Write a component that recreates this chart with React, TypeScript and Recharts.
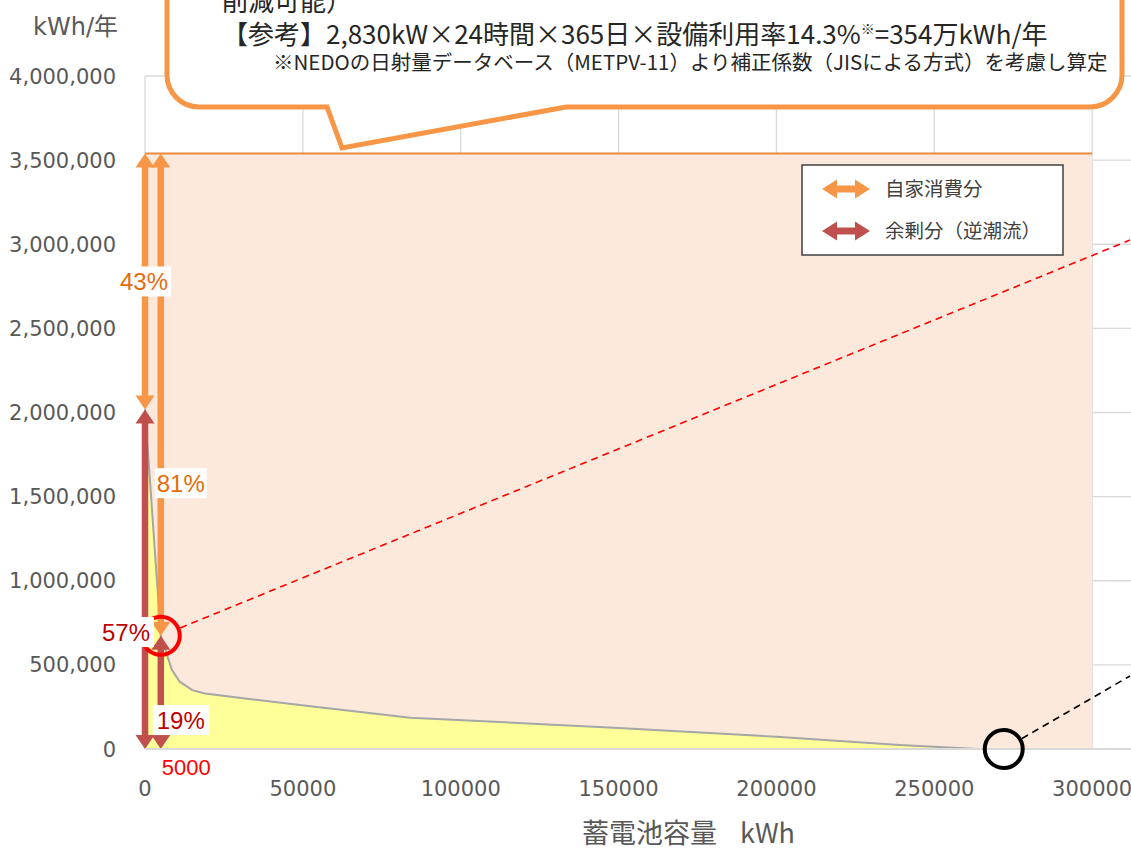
import React from 'react';
import { ComposedChart, Area, XAxis, YAxis, CartesianGrid, ReferenceLine, ReferenceDot } from 'recharts';

// 蓄電池容量 kWh
const capacity = [0, 5000, 8500, 11000, 15000, 19000, 33000, 49000, 84000, 150000, 200000, 239000, 264000, 300000];
// 余剰分（逆潮流） kWh/年
const surplus = [2017800, 672600, 470000, 400000, 350000, 330000, 297000, 261000, 186000, 125000, 73000, 24000, 0, 0];
// 年間発電量 354万kWh/年
const annualGeneration = 3540000;

const xTicks = [0, 50000, 100000, 150000, 200000, 250000, 300000];
const yTicks = [0, 500000, 1000000, 1500000, 2000000, 2500000, 3000000, 3500000, 4000000];

// 注目する容量
const focusCapacity = 5000;
const zeroSurplusCapacity = 272000;

const rows = capacity.map((c, i) => ({ capacity: c, generation: annualGeneration, surplus: surplus[i] }));

const NUM_FONT = "'DejaVu Sans', 'Noto Sans CJK JP', sans-serif";
const JP_FONT = "'Noto Sans CJK JP', sans-serif";
const LABEL_FONT = "'Liberation Sans', Arial, sans-serif";

const ORANGE = '#F79646';
const RED = '#C0504D';

const pct = (v: number) => Math.round((v / annualGeneration) * 100);
const surplusAtZero = surplus[0];
const surplusAtFocus = surplus[capacity.indexOf(focusCapacity)];

const arrowPoints = (x1: number, y1: number, x2: number, y2: number, shaft: number, headW: number, headL: number) => {
  const len = Math.hypot(x2 - x1, y2 - y1);
  const ux = (x2 - x1) / len;
  const uy = (y2 - y1) / len;
  const nx = -uy;
  const ny = ux;
  const pt = (t: number, s: number) => `${x1 + ux * t + nx * s},${y1 + uy * t + ny * s}`;
  return [
    pt(0, 0), pt(headL, headW / 2), pt(headL, shaft / 2), pt(len - headL, shaft / 2), pt(len - headL, headW / 2),
    pt(len, 0), pt(len - headL, -headW / 2), pt(len - headL, -shaft / 2), pt(headL, -shaft / 2), pt(headL, -headW / 2),
  ].join(' ');
};

const doubleArrow = (color: string) => (p: any) => {
  const { x1, y1, x2, y2 } = p;
  if (Math.hypot(x2 - x1, y2 - y1) < 1) return <g />;
  return <polygon points={arrowPoints(x1, y1, x2, y2, 6.5, 19, 14)} fill={color} />;
};

// 円の縁から引き出す破線
const leader = (color: string, trim: number) => (p: any) => {
  const { x1, y1, x2, y2 } = p;
  const len = Math.hypot(x2 - x1, y2 - y1) || 1;
  const sx = x1 + ((x2 - x1) / len) * trim;
  const sy = y1 + ((y2 - y1) / len) * trim;
  return <line x1={sx} y1={sy} x2={x2} y2={y2} stroke={color} strokeWidth={1.6} strokeDasharray="7 5" />;
};

const boxedLabel = (text: string, color: string, dx: number, w: number) => (p: any) => (
  <g>
    <rect x={p.cx + dx - w / 2} y={p.cy - 15} width={w} height={30} fill="#fff" />
    <text x={p.cx + dx} y={p.cy} dy={8.5} textAnchor="middle" fill={color} fontSize={24} fontFamily={LABEL_FONT}>
      {text}
    </text>
  </g>
);

const YTick = (props: any) => {
  const { x, y, payload } = props;
  return (
    <text x={x - 27} y={y} dy={7.5} textAnchor="end" fill="#595959" fontSize={21} fontFamily={NUM_FONT}>
      {payload.value.toLocaleString('en-US')}
    </text>
  );
};

const XTick = (props: any) => {
  const { x, y, payload } = props;
  return (
    <text x={x} y={y + 45} textAnchor="middle" fill="#595959" fontSize={21} fontFamily={NUM_FONT}>
      {String(payload.value)}
    </text>
  );
};

const Callout = () => (
  <svg width={1131} height={850} style={{ position: 'absolute', left: 0, top: 0, pointerEvents: 'none' }}>
    <path
      d="M167,-40 L167,75 A32,32 0 0 0 199,107 L327,107 L342,148 L566,107 L1090,107 A32,32 0 0 0 1122,75 L1122,-40 Z"
      fill="#fff"
      stroke={ORANGE}
      strokeWidth={5}
    />
    <text x={222} y={11} fontSize={26} fontFamily={JP_FONT} fill="#262626">削減可能）</text>
    <text x={222} y={44} fontSize={26} fontFamily={JP_FONT} fill="#262626">
      【参考】2,830kW×24時間×365日×設備利用率14.3%
      <tspan fontSize={14} dy={-10}>※</tspan>
      <tspan dy={10}>=354万kWh/年</tspan>
    </text>
    <text x={273} y={70} fontSize={20.5} fontFamily={JP_FONT} fill="#262626">
      ※NEDOの日射量データベース（METPV-11）より補正係数（JISによる方式）を考慮し算定
    </text>

    <text x={118} y={35} textAnchor="end" fontSize={24} fontFamily={NUM_FONT} fill="#595959">kWh/年</text>
    <text y={843} fontSize={27} fontFamily={JP_FONT} fill="#595959">
      <tspan x={582}>蓄電池容量</tspan>
      <tspan x={740}>kWh</tspan>
    </text>

    <rect x={802} y={165} width={261} height={90} fill="#fff" stroke="#404040" strokeWidth={1.5} />
    <polygon points={arrowPoints(822, 189, 870, 189, 7, 19, 15)} fill={ORANGE} />
    <polygon points={arrowPoints(822, 231, 870, 231, 7, 19, 15)} fill={RED} />
    <text x={885} y={189} dy={7} fontSize={19.5} fontFamily={JP_FONT} fill="#404040">自家消費分</text>
    <text x={885} y={231} dy={7} fontSize={19.5} fontFamily={JP_FONT} fill="#404040">余剰分（逆潮流）</text>
  </svg>
);

export default function App() {
  return (
    <div style={{ position: 'fixed', left: 0, top: 0, width: 1131, height: 850, overflow: 'hidden', background: '#fff' }}>
      <ComposedChart width={1260} height={850} data={rows} margin={{ top: 76, right: 10, bottom: 61, left: 0 }}>
        <CartesianGrid stroke="#d9d9d9" strokeWidth={1.3} />
        <XAxis
          dataKey="capacity"
          type="number"
          domain={[0, 350000]}
          ticks={xTicks}
          interval={0}
          height={40}
          tickSize={0}
          tickLine={false}
          axisLine={{ stroke: '#d9d9d9', strokeWidth: 2 }}
          tick={XTick}
        />
        <YAxis
          type="number"
          domain={[0, 4000000]}
          ticks={yTicks}
          interval={0}
          width={145}
          tickSize={0}
          tickLine={false}
          axisLine={false}
          tick={YTick}
        />
        <Area
          type="linear"
          dataKey="generation"
          stroke="#EA8A3C"
          strokeWidth={2}
          fill="#FCE9DB"
          fillOpacity={1}
          dot={false}
          activeDot={false}
          isAnimationActive={false}
        />
        <Area
          type="linear"
          dataKey="surplus"
          stroke="#A6A6A6"
          strokeWidth={2}
          fill="#FFFF99"
          fillOpacity={1}
          dot={false}
          activeDot={false}
          isAnimationActive={false}
        />

        {/* 自家消費分・余剰分の矢印 */}
        <ReferenceLine
          segment={[{ x: 0, y: annualGeneration }, { x: 0, y: surplusAtZero }]}
          ifOverflow="visible"
          shape={doubleArrow(ORANGE)}
        />
        <ReferenceLine
          segment={[{ x: 0, y: surplusAtZero }, { x: 0, y: 0 }]}
          ifOverflow="visible"
          shape={doubleArrow(RED)}
        />
        <ReferenceLine
          segment={[{ x: focusCapacity, y: annualGeneration }, { x: focusCapacity, y: surplusAtFocus }]}
          ifOverflow="visible"
          shape={doubleArrow(ORANGE)}
        />
        <ReferenceLine
          segment={[{ x: focusCapacity, y: surplusAtFocus }, { x: focusCapacity, y: 0 }]}
          ifOverflow="visible"
          shape={doubleArrow(RED)}
        />

        {/* 引き出し線 */}
        <ReferenceLine
          segment={[{ x: focusCapacity, y: surplusAtFocus }, { x: 312000, y: 3025000 }]}
          ifOverflow="visible"
          shape={leader('#FF0000', 21)}
        />
        <ReferenceLine
          segment={[{ x: zeroSurplusCapacity, y: 0 }, { x: 312000, y: 434000 }]}
          ifOverflow="visible"
          shape={leader('#000000', 21)}
        />

        <ReferenceDot x={focusCapacity} y={surplusAtFocus} r={19} fill="none" stroke="#FF0000" strokeWidth={4} ifOverflow="visible" />
        <ReferenceDot x={zeroSurplusCapacity} y={0} r={19} fill="none" stroke="#000000" strokeWidth={4} ifOverflow="visible" />

        {/* 割合ラベル */}
        <ReferenceDot
          x={0}
          y={(annualGeneration + surplusAtZero) / 2}
          ifOverflow="visible"
          shape={boxedLabel(`${100 - pct(surplusAtZero)}%`, '#E46C0A', -1, 54)}
        />
        <ReferenceDot x={0} y={695000} ifOverflow="visible" shape={boxedLabel(`${pct(surplusAtZero)}%`, '#C00000', -19, 56)} />
        <ReferenceDot
          x={focusCapacity}
          y={1580000}
          ifOverflow="visible"
          shape={boxedLabel(`${100 - pct(surplusAtFocus)}%`, '#E46C0A', 20, 52)}
        />
        <ReferenceDot x={focusCapacity} y={172000} ifOverflow="visible" shape={boxedLabel(`${pct(surplusAtFocus)}%`, '#C00000', 20, 56)} />
        <ReferenceDot
          x={focusCapacity}
          y={0}
          ifOverflow="visible"
          shape={(p: any) => (
            <text x={p.cx + 1} y={p.cy + 26} fill="#FF0000" fontSize={22} fontFamily={LABEL_FONT}>
              {focusCapacity}
            </text>
          )}
        />
      </ComposedChart>
      <Callout />
    </div>
  );
}
